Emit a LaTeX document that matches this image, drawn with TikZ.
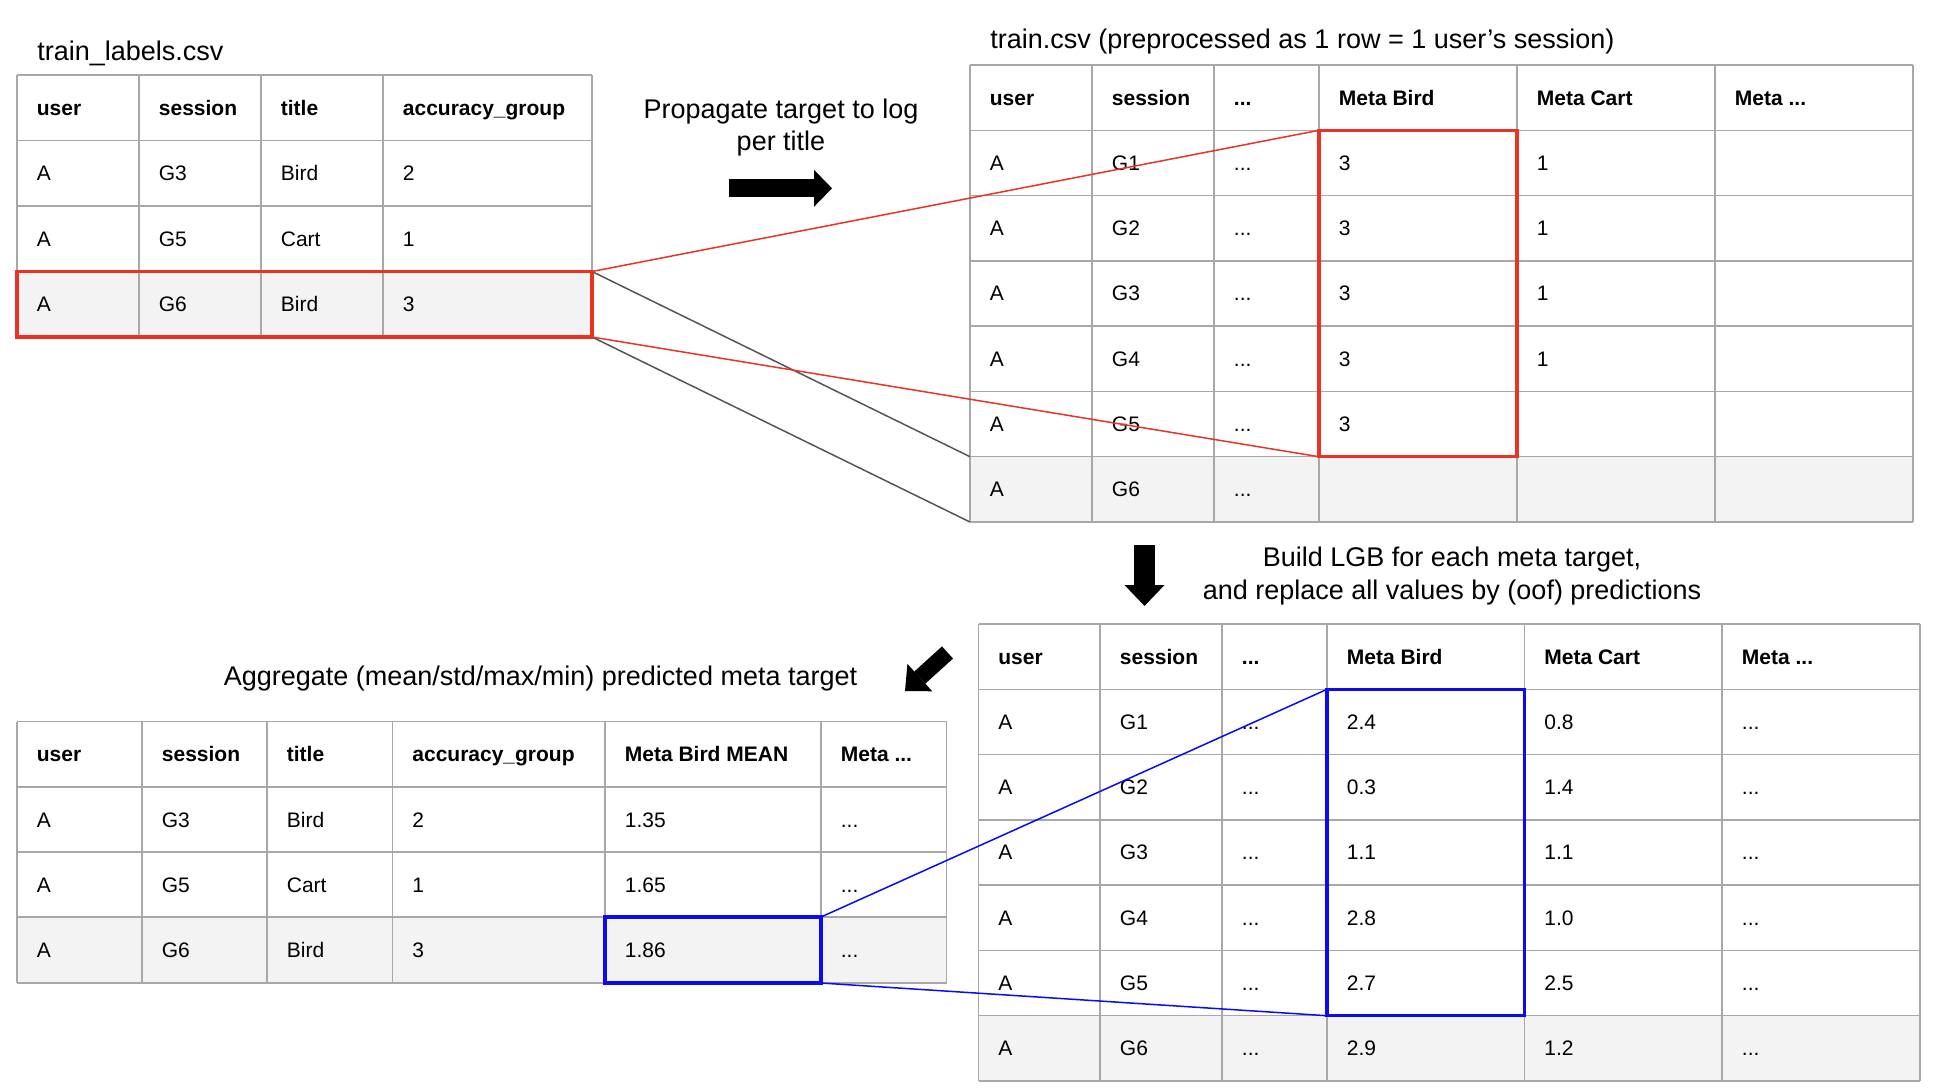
\documentclass[tikz,border=0pt]{standalone}
\usepackage{fontspec}
\setmainfont{Liberation Sans}
\usetikzlibrary{arrows.meta,fit}

\definecolor{gridgray}{RGB}{168,168,168}
\definecolor{rowgray}{RGB}{243,243,243}
\definecolor{boxred}{RGB}{234,51,35}
\definecolor{boxblue}{RGB}{10,10,245}
\definecolor{linkgray}{RGB}{85,85,85}
\newcommand\mdots{...}
\newcommand\cellfont{\fontsize{10.5}{12.6}\selectfont}
\newcommand\capfont{\fontsize{13.5}{16}\selectfont}

\begin{document}
\begin{tikzpicture}[x=0.5pt,y=-0.5pt,
        gridline/.style={draw=gridgray,line width=0.65pt},
        rowfill/.style={fill=rowgray,inner sep=0pt,outer sep=0pt},
        hlbox/.style={draw,line width=1.65pt,inner sep=0pt,outer sep=0pt},
        link/.style={line width=0.75pt},
        cell/.style={anchor=base west,inner sep=0pt,font=\cellfont},
        head/.style={cell,font=\cellfont\bfseries},
        caption/.style={inner sep=0pt,font=\capfont}]
        \useasboundingbox (0,0) rectangle (1938,1088);

        % train_labels.csv
        \node[caption,anchor=base west] (labtitle) at (37,60) {train\_labels.csv};
        \node[rowfill,fit={(17,271.5) (592,337)}] (labrow) {};
        \foreach \y in {75,140.5,206,271.5,337} \draw[gridline] (17,\y) -- (592,\y);
        \foreach \x in {17,139,261,383,592} \draw[gridline] (\x,75) -- (\x,337);
        \foreach \x/\h/\vals [count=\i] in {36.5/user/{A,A,A}, 158.5/session/{G3,G5,G6},
                280.5/title/{Bird,Cart,Bird}, 402.5/accuracy\_group/{2,1,3}} {
            \node[head] (lab-0-\i) at (\x,115.25) {\h};
            \foreach \t [count=\r] in \vals
                \node[cell] (lab-\r-\i) at (\x,{115.25+65.5*\r}) {\t};
        }
        \node[hlbox,draw=boxred,fit={(17,271.5) (592,337)}] (labbox) {};

        \node[caption,anchor=base] (prop1) at (781,118) {Propagate target to log};
        \node[caption,anchor=base] (prop2) at (781,150) {per title};
        \coordinate (rgt-a) at (729,188.3);
        \coordinate (rgt-b) at (832,188.3);
        \draw[line width=9pt,-{Triangle[length=9pt,width=18.5pt,line width=0pt]}] (rgt-a) -- (rgt-b);

        % train.csv
        \node[caption,anchor=base west] (trntitle) at (990,48) {train.csv (preprocessed as 1 row = 1 user’s session)};
        \node[rowfill,fit={(970,456.7) (1913,522)}] (trnrow) {};
        \foreach \y in {65,130.3,195.6,260.9,326.1,391.4,456.7,522} \draw[gridline] (970,\y) -- (1913,\y);
        \foreach \x in {970,1092,1214,1319,1517,1715,1913} \draw[gridline] (\x,65) -- (\x,522);
        \foreach \x/\h/\vals [count=\i] in {989.5/user/{A,A,A,A,A,A}, 1111.5/session/{G1,G2,G3,G4,G5,G6},
                1233.5/\mdots/{\mdots,\mdots,\mdots,\mdots,\mdots,\mdots},
                1338.5/Meta Bird/{3,3,3,3,3}, 1536.5/Meta Cart/{1,1,1,1}} {
            \node[head] (trn-0-\i) at (\x,105.1) {\h};
            \foreach \t [count=\r] in \vals
                \node[cell] (trn-\r-\i) at (\x,{105.1+65.29*\r}) {\t};
        }
        \node[head] (trn-0-6) at (1734.5,105.1) {Meta \mdots};
        \node[hlbox,draw=boxred,fit={(1319,130.3) (1517,456.7)}] (birdbox) {};

        \node[caption,anchor=base] (lgb1) at (1452,566.6) {Build LGB for each meta target,};
        \node[caption,anchor=base] (lgb2) at (1452,599) {and replace all values by (oof) predictions};
        \coordinate (dn-a) at (1144.5,545);
        \coordinate (dn-b) at (1144.5,606);
        \draw[line width=10.5pt,-{Triangle[length=10.5pt,width=20pt,line width=0pt]}] (dn-a) -- (dn-b);

        % oof predictions
        \node[rowfill,fit={(978.5,1015.7) (1920,1081)}] (oofrow) {};
        \foreach \y in {624,689.3,754.6,819.9,885.1,950.4,1015.7,1081} \draw[gridline] (978.5,\y) -- (1920,\y);
        \foreach \x in {978.5,1100,1222,1327,1524.5,1722,1920} \draw[gridline] (\x,624) -- (\x,1081);
        \foreach \x/\h/\vals [count=\i] in {998/user/{A,A,A,A,A,A}, 1119.5/session/{G1,G2,G3,G4,G5,G6},
                1241.5/\mdots/{\mdots,\mdots,\mdots,\mdots,\mdots,\mdots},
                1346.5/Meta Bird/{2.4,0.3,1.1,2.8,2.7,2.9}, 1544/Meta Cart/{0.8,1.4,1.1,1.0,2.5,1.2},
                1741.5/Meta \mdots/{\mdots,\mdots,\mdots,\mdots,\mdots,\mdots}} {
            \node[head] (oof-0-\i) at (\x,664.1) {\h};
            \foreach \t [count=\r] in \vals
                \node[cell] (oof-\r-\i) at (\x,{664.1+65.29*\r}) {\t};
        }
        \node[hlbox,draw=boxblue,fit={(1327,689.3) (1524.5,1015.7)}] (oofbox) {};

        % aggregated
        \node[caption,anchor=base] (aggtitle) at (540.5,685) {Aggregate (mean/std/max/min) predicted meta target};
        \coordinate (dg-a) at (947.5,652.5);
        \coordinate (dg-b) at (905,691);
        \draw[line width=8.2pt,-{Triangle[length=10pt,width=18.5pt,line width=0pt]}] (dg-a) -- (dg-b);
        \node[rowfill,fit={(17,917) (946.5,983)}] (aggrow) {};
        \foreach \y in {721.7,787,852,917,983} \draw[gridline] (17,\y) -- (946.5,\y);
        \foreach \x in {17,142,267,392.5,605,821,946.5} \draw[gridline] (\x,721.7) -- (\x,983);
        \foreach \x/\h/\vals [count=\i] in {36.5/user/{A,A,A}, 161.5/session/{G3,G5,G6},
                286.5/title/{Bird,Cart,Bird}, 412/accuracy\_group/{2,1,3},
                624.5/Meta Bird MEAN/{1.35,1.65,1.86}, 840.5/Meta \mdots/{\mdots,\mdots,\mdots}} {
            \node[head] (agg-0-\i) at (\x,761.9) {\h};
            \foreach \t [count=\r] in \vals
                \node[cell] (agg-\r-\i) at (\x,{761.9+65.3*\r}) {\t};
        }
        \node[hlbox,draw=boxblue,fit={(605,917) (821,983)}] (meanbox) {};

        % links
        \draw[link,linkgray] (labbox.north east) -- (trnrow.north west);
        \draw[link,linkgray] (labbox.south east) -- (trnrow.south west);
        \draw[link,boxred] (labbox.north east) -- (birdbox.north west);
        \draw[link,boxred] (labbox.south east) -- (birdbox.south west);
        \draw[link,boxblue] (meanbox.north east) -- (oofbox.north west);
        \draw[link,boxblue] (meanbox.south east) -- (oofbox.south west);

    \end{tikzpicture}
\end{document}
